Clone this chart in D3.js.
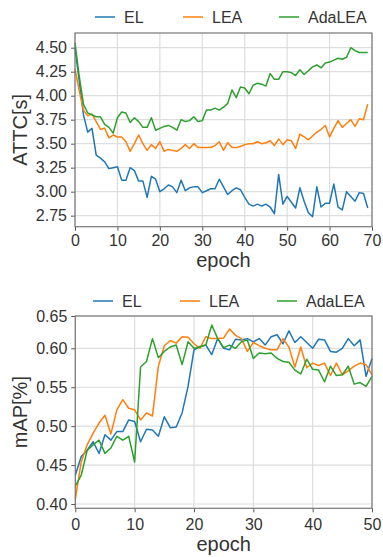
<!DOCTYPE html>
<html>
<head>
<meta charset="utf-8">
<script src="https://cdn.jsdelivr.net/npm/d3@7"></script>
<style>
  body { margin: 0; background: #fff; }
  svg text { font-family: "Liberation Sans", Arial, sans-serif; fill: #333; }
  .grid line { stroke: #dddddd; stroke-width: 1.2; }
  .axis path, .axis line { stroke: #555; }
</style>
</head>
<body>
<div id="chart"></div>
<script>
// ---- data ----
var seriesNames = ["EL", "LEA", "AdaLEA"];
var seriesColors = ["#1f77b4", "#ff7f0e", "#2ca02c"];

// top panel: ATTC[s] per epoch (0..69)
var attcEL = [4.50, 4.15, 3.80, 3.62, 3.66, 3.38, 3.35, 3.31, 3.24, 3.25,
  3.26, 3.12, 3.12, 3.25, 3.22, 3.11, 3.11, 2.94, 3.16, 3.13,
  3.00, 3.03, 3.07, 3.05, 2.99, 3.12, 3.01, 3.04, 3.05, 3.05,
  2.99, 3.01, 3.03, 3.03, 3.13, 3.05, 2.97, 3.01, 3.04, 3.02,
  2.94, 2.87, 2.85, 2.87, 2.85, 2.87, 2.84, 2.77, 3.18, 2.87,
  2.95, 2.89, 2.83, 3.04, 2.90, 2.78, 2.74, 3.05, 2.84, 2.88,
  2.88, 3.08, 2.84, 2.81, 3.00, 2.95, 2.90, 2.99, 2.98, 2.83];
var attcLEA = [4.28, 4.05, 3.85, 3.79, 3.81, 3.73, 3.65, 3.66, 3.56, 3.59,
  3.57, 3.57, 3.52, 3.42, 3.50, 3.59, 3.50, 3.43, 3.49, 3.45,
  3.52, 3.42, 3.44, 3.43, 3.42, 3.45, 3.49, 3.45, 3.50, 3.46,
  3.46, 3.46, 3.46, 3.48, 3.52, 3.43, 3.51, 3.46, 3.46, 3.47,
  3.49, 3.50, 3.50, 3.52, 3.50, 3.51, 3.53, 3.48, 3.55, 3.49,
  3.54, 3.53, 3.45, 3.60, 3.57, 3.54, 3.58, 3.62, 3.65, 3.69,
  3.57, 3.66, 3.74, 3.67, 3.71, 3.75, 3.68, 3.76, 3.75, 3.91];
var attcAda = [4.55, 4.20, 3.91, 3.82, 3.80, 3.78, 3.78, 3.70, 3.67, 3.61,
  3.77, 3.83, 3.82, 3.72, 3.77, 3.73, 3.67, 3.67, 3.77, 3.64,
  3.66, 3.68, 3.69, 3.67, 3.64, 3.75, 3.73, 3.74, 3.78, 3.73,
  3.74, 3.85, 3.85, 3.87, 3.85, 3.88, 3.92, 4.06, 3.98, 4.09,
  4.08, 4.02, 4.11, 4.13, 4.12, 4.10, 4.23, 4.17, 4.17, 4.25,
  4.25, 4.24, 4.21, 4.27, 4.22, 4.26, 4.30, 4.32, 4.29, 4.34,
  4.35, 4.37, 4.39, 4.38, 4.40, 4.50, 4.47, 4.45, 4.45, 4.45];

// bottom panel: mAP per epoch (0..50)
var mapEL = [0.437, 0.461, 0.469, 0.480, 0.465, 0.489, 0.482, 0.493, 0.493, 0.508,
  0.506, 0.480, 0.496, 0.495, 0.487, 0.512, 0.498, 0.499, 0.517, 0.551,
  0.598, 0.603, 0.605, 0.592, 0.615, 0.600, 0.598, 0.614, 0.613, 0.615,
  0.610, 0.615, 0.605, 0.618, 0.621, 0.607, 0.627, 0.609, 0.618, 0.609,
  0.600, 0.614, 0.613, 0.596, 0.595, 0.600, 0.615, 0.604, 0.613, 0.564,
  0.587];
var mapLEA = [0.406, 0.454, 0.476, 0.491, 0.504, 0.514, 0.490, 0.521, 0.534, 0.523,
  0.521, 0.508, 0.517, 0.513, 0.577, 0.604, 0.612, 0.608, 0.618, 0.617,
  0.607, 0.600, 0.618, 0.615, 0.615, 0.616, 0.630, 0.620, 0.615, 0.596,
  0.609, 0.604, 0.600, 0.598, 0.598, 0.615, 0.602, 0.576, 0.602, 0.575,
  0.581, 0.578, 0.581, 0.565, 0.581, 0.566, 0.571, 0.577, 0.581, 0.579,
  0.566];
var mapAda = [0.423, 0.437, 0.469, 0.476, 0.482, 0.465, 0.472, 0.487, 0.482, 0.487,
  0.454, 0.576, 0.583, 0.615, 0.588, 0.596, 0.602, 0.605, 0.579, 0.610,
  0.600, 0.602, 0.605, 0.636, 0.615, 0.601, 0.605, 0.600, 0.610, 0.613,
  0.587, 0.594, 0.593, 0.594, 0.587, 0.583, 0.582, 0.572, 0.567, 0.586,
  0.573, 0.572, 0.557, 0.577, 0.565, 0.566, 0.577, 0.554, 0.556, 0.551,
  0.564];

var attcTicks = [2.75, 3.00, 3.25, 3.50, 3.75, 4.00, 4.25, 4.50];
var attcEpochTicks = [0, 10, 20, 30, 40, 50, 60, 70];
var mapTicks = [0.40, 0.45, 0.50, 0.55, 0.60, 0.65];
var mapEpochTicks = [0, 10, 20, 30, 40, 50];

var svg = d3.select("#chart").append("svg")
  .attr("width", 383)
  .attr("height", 557);

function drawPanel(opt) {
  var g = svg.append("g");
  var x = opt.x, y = opt.y;
  var left = x.range()[0], right = x.range()[1];
  var top = y.range()[y.range().length - 1], bottom = y.range()[0];

  // grid
  g.append("g").attr("class", "grid")
    .selectAll("line.gx").data(opt.xTicks).enter().append("line")
    .attr("x1", d => x(d)).attr("x2", d => x(d))
    .attr("y1", top).attr("y2", bottom);
  g.append("g").attr("class", "grid")
    .selectAll("line.gy").data(opt.yTicks).enter().append("line")
    .attr("x1", left).attr("x2", right)
    .attr("y1", d => y(d)).attr("y2", d => y(d));

  // lines
  var line = d3.line().x((d, i) => x(i)).y(d => y(d));
  opt.series.forEach(function(s, k) {
    g.append("path")
      .datum(s)
      .attr("fill", "none")
      .attr("stroke", seriesColors[k])
      .attr("stroke-width", 1.5)
      .attr("stroke-linejoin", "round")
      .attr("d", line);
  });

  // axes
  var xAxis = g.append("g").attr("class", "axis")
    .attr("transform", "translate(0," + bottom + ")")
    .call(d3.axisBottom(x).tickValues(opt.xTicks).tickSize(4).tickPadding(opt.xPad).tickFormat(d3.format("d")));
  xAxis.select(".domain").remove();
  xAxis.selectAll("text").style("font-size", "16px").attr("fill", "#333");

  var yAxis = g.append("g").attr("class", "axis")
    .attr("transform", "translate(" + left + ",0)")
    .call(d3.axisLeft(y).tickValues(opt.yTicks).tickSize(4).tickPadding(4).tickFormat(d3.format(".2f")));
  yAxis.select(".domain").remove();
  yAxis.selectAll("text").style("font-size", "16px").attr("fill", "#333");

  // frame
  g.append("rect")
    .attr("x", left).attr("y", top)
    .attr("width", right - left).attr("height", bottom - top)
    .attr("fill", "none").attr("stroke", "#777").attr("stroke-width", 1.2);

  // axis labels
  g.append("text")
    .attr("x", (left + right) / 2).attr("y", opt.xLabelY)
    .attr("text-anchor", "middle")
    .style("font-size", "20px")
    .text("epoch");
  g.append("text")
    .attr("transform", "translate(" + opt.yLabelX + "," + ((top + bottom) / 2) + ") rotate(-90)")
    .attr("text-anchor", "middle")
    .style("font-size", "20px")
    .text(opt.yLabel);

  // legend
  var leg = g.append("g").attr("transform", "translate(0," + opt.legendY + ")");
  seriesNames.forEach(function(name, k) {
    leg.append("line")
      .attr("x1", opt.legendX[k]).attr("x2", opt.legendX[k] + 20)
      .attr("y1", 0).attr("y2", 0)
      .attr("stroke", seriesColors[k]).attr("stroke-width", 1.5);
    leg.append("text")
      .attr("x", opt.legendX[k] + 29).attr("y", 5.5)
      .style("font-size", "16px")
      .text(name);
  });
}

drawPanel({
  x: d3.scaleLinear().domain([0, 70]).range([75, 372]),
  y: d3.scaleLinear().domain([2.635, 4.653]).range([226.7, 33]),
  xTicks: attcEpochTicks,
  yTicks: attcTicks,
  series: [attcEL, attcLEA, attcAda],
  yLabel: "ATTC[s]",
  yLabelX: 27,
  xPad: 4,
  xLabelY: 267,
  legendY: 17,
  legendX: [95, 183, 279]
});

drawPanel({
  x: d3.scaleLinear().domain([0, 50]).range([75.3, 372]),
  y: d3.scaleLinear().domain([0.3945, 0.60, 0.65]).range([508.3, 348.3, 316]),
  xTicks: mapEpochTicks,
  yTicks: mapTicks,
  series: [mapEL, mapLEA, mapAda],
  yLabel: "mAP[%]",
  yLabelX: 27,
  xPad: 6,
  xLabelY: 551,
  legendY: 301,
  legendX: [93, 180, 277]
});
</script>
</body>
</html>
